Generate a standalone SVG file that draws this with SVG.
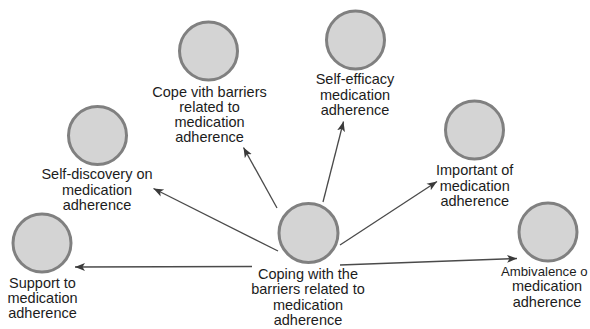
<svg xmlns="http://www.w3.org/2000/svg" width="590" height="329" viewBox="0 0 590 329">
  <style>
    .node circle { fill: #d4d4d4; stroke: #808080; stroke-width: 3; }
    .node text { font-family: "Liberation Sans", Arial, sans-serif; font-size: 14.5px; fill: #1c1c1c; text-anchor: middle; }
    .edge { stroke: #4a4a4a; stroke-width: 1.3; fill: none; marker-end: url(#arrow); }
  </style>
  <defs>
    <marker id="arrow" markerUnits="userSpaceOnUse" markerWidth="12" markerHeight="10" refX="10" refY="5" orient="auto">
      <path d="M0,1 L10,5 L0,9 L2.5,5 Z" fill="#3a3a3a"/>
    </marker>
  </defs>
  <rect width="590" height="329" fill="#ffffff"/>

  <g id="connectors">
    <line class="edge" x1="277" y1="208" x2="243.5" y2="147.5"/>
    <line class="edge" x1="323" y1="202" x2="343.5" y2="121.5"/>
    <line class="edge" x1="278" y1="251" x2="153.5" y2="188.5"/>
    <line class="edge" x1="252" y1="266.5" x2="75" y2="267"/>
    <line class="edge" x1="340" y1="245" x2="437" y2="181.5"/>
    <line class="edge" x1="340" y1="265" x2="517" y2="258.5"/>
  </g>

  <g id="node-coping" class="node">
    <circle cx="308.5" cy="233" r="29.5"/>
    <text x="308" y="279">Coping with the</text>
    <text x="308" y="294.3">barriers related to</text>
    <text x="308" y="309.6">medication</text>
    <text x="308" y="324.9">adherence</text>
  </g>

  <g id="node-cope-vith" class="node">
    <circle cx="208.5" cy="51" r="29"/>
    <text x="209.5" y="96.5">Cope vith barriers</text>
    <text x="209.5" y="111.8">related to</text>
    <text x="209.5" y="127.1">medication</text>
    <text x="209.5" y="142.4">adherence</text>
  </g>

  <g id="node-self-efficacy" class="node">
    <circle cx="355.5" cy="40" r="29"/>
    <text x="355" y="84">Self-efficacy</text>
    <text x="355" y="99.5">medication</text>
    <text x="355" y="115">adherence</text>
  </g>

  <g id="node-self-discovery" class="node">
    <circle cx="97.5" cy="135.5" r="29"/>
    <text x="97" y="179.3">Self-discovery on</text>
    <text x="97" y="194.8">medication</text>
    <text x="97" y="210.3">adherence</text>
  </g>

  <g id="node-important" class="node">
    <circle cx="474.5" cy="130" r="29"/>
    <text x="474.7" y="175">Important of</text>
    <text x="474.7" y="190.5">medication</text>
    <text x="474.7" y="206">adherence</text>
  </g>

  <g id="node-support" class="node">
    <circle cx="42" cy="243" r="29"/>
    <text x="42.5" y="287.5">Support to</text>
    <text x="42.5" y="302.8">medication</text>
    <text x="42.5" y="318.1">adherence</text>
  </g>

  <g id="node-ambivalence" class="node">
    <circle cx="548" cy="232" r="29"/>
    <text x="501" y="276" style="text-anchor: start; font-size: 13.2px">Ambivalence o</text>
    <text x="547" y="291.3">medication</text>
    <text x="547" y="306.6">adherence</text>
  </g>
</svg>
